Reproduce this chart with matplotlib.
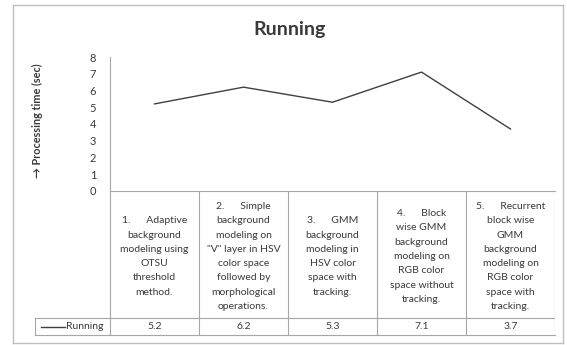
import matplotlib.pyplot as plt

plt.rcParams["font.family"] = ["Lato", "DejaVu Sans"]

# Processing time per method, running sequence
methods = [
    "1.      Adaptive\nbackground\nmodeling using\nOTSU\nthreshold\nmethod.",
    "2.      Simple\nbackground\nmodeling on\n\"V\" layer in HSV\ncolor space\nfollowed by\nmorphological\noperations.",
    "3.      GMM\nbackground\nmodeling in\nHSV color\nspace with\ntracking.",
    "4.      Block\nwise GMM\nbackground\nmodeling on\nRGB color\nspace without\ntracking.",
    "5.      Recurrent\nblock wise\nGMM\nbackground\nmodeling on\nRGB color\nspace with\ntracking.",
]
running = [5.2, 6.2, 5.3, 7.1, 3.7]
yticks = [0, 1, 2, 3, 4, 5, 6, 7, 8]

W, H = 567, 345
GRID = "#a6a6a6"
TEXT = "#3a3a3a"


def px(x0, y0, x1, y1):
    """Pixel box (top-left origin) -> figure fraction rect."""
    return [x0 / W, 1 - y1 / H, (x1 - x0) / W, (y1 - y0) / H]


fig = plt.figure(figsize=(W / 100, H / 100), dpi=100)

# chart border
frame = fig.add_axes(px(13, 5, 563, 343))
frame.set_xticks([])
frame.set_yticks([])
for s in frame.spines.values():
    s.set_color("#bfbfbf")
    s.set_linewidth(1.0)
frame.patch.set_alpha(0)

# plot area
ax_l, ax_r, ax_t, ax_b = 110, 555, 57, 191
ax = fig.add_axes(px(ax_l, ax_t, ax_r, ax_b))
n = len(running)
ax.plot(range(n), running, color="#404040", linewidth=1.0)
ax.set_xlim(-0.5, n - 0.5)
ax.set_ylim(0, 8)
ax.set_yticks(yticks)
ax.set_yticklabels([str(v) for v in yticks], fontsize=8, color=TEXT)
ax.tick_params(axis="y", length=0, pad=10)
ax.set_xticks([])
for side in ["top", "right"]:
    ax.spines[side].set_visible(False)
ax.spines["left"].set_color(GRID)
ax.spines["bottom"].set_color(GRID)
ax.patch.set_alpha(0)

fig.text(37 / W, 1 - 121 / H, "\u2192 Processing time (sec)", rotation=90,
         ha="center", va="center", fontsize=7.8, fontweight="bold", color=TEXT)
fig.text(290 / W, 1 - 30 / H, "Running", ha="center", va="center",
         fontsize=14, fontweight="bold", color=TEXT)

# data table below the axis
tb_b = 335
tb_l = 35
row_top = 318
cw = (ax_r - ax_l) / n
tab = fig.add_axes(px(tb_l, ax_b, ax_r, tb_b))
tab.set_xlim(-0.5 - (ax_l - tb_l) / cw, n - 0.5)
tab.set_ylim(tb_b, ax_b)
tab.axis("off")

lw = 0.8
x_leg = tab.get_xlim()[0]
for i in range(n + 1):
    tab.plot([-0.5 + i] * 2, [ax_b, tb_b], color=GRID, lw=lw)
tab.plot([x_leg, x_leg], [row_top, tb_b], color=GRID, lw=lw, clip_on=False)
tab.plot([x_leg, n - 0.5], [row_top, row_top], color=GRID, lw=lw)
tab.plot([x_leg, n - 0.5], [tb_b, tb_b], color=GRID, lw=lw, clip_on=False)

for i, (label, val) in enumerate(zip(methods, running)):
    tab.text(i, (ax_b + row_top) / 2 + 2, label, ha="center", va="center",
             fontsize=7.5, color=TEXT, linespacing=1.75)
    tab.text(i, (row_top + tb_b) / 2, f"{val}", ha="center", va="center",
             fontsize=7.5, color=TEXT)

# legend key in the row header
mid = (row_top + tb_b) / 2
tab.plot([x_leg + 6 / cw, x_leg + 30 / cw], [mid, mid], color="#404040", lw=1.0)
tab.text(x_leg + 31 / cw, mid, "Running", ha="left", va="center",
         fontsize=7.5, color=TEXT)

fig.savefig("out.png", dpi=100)
